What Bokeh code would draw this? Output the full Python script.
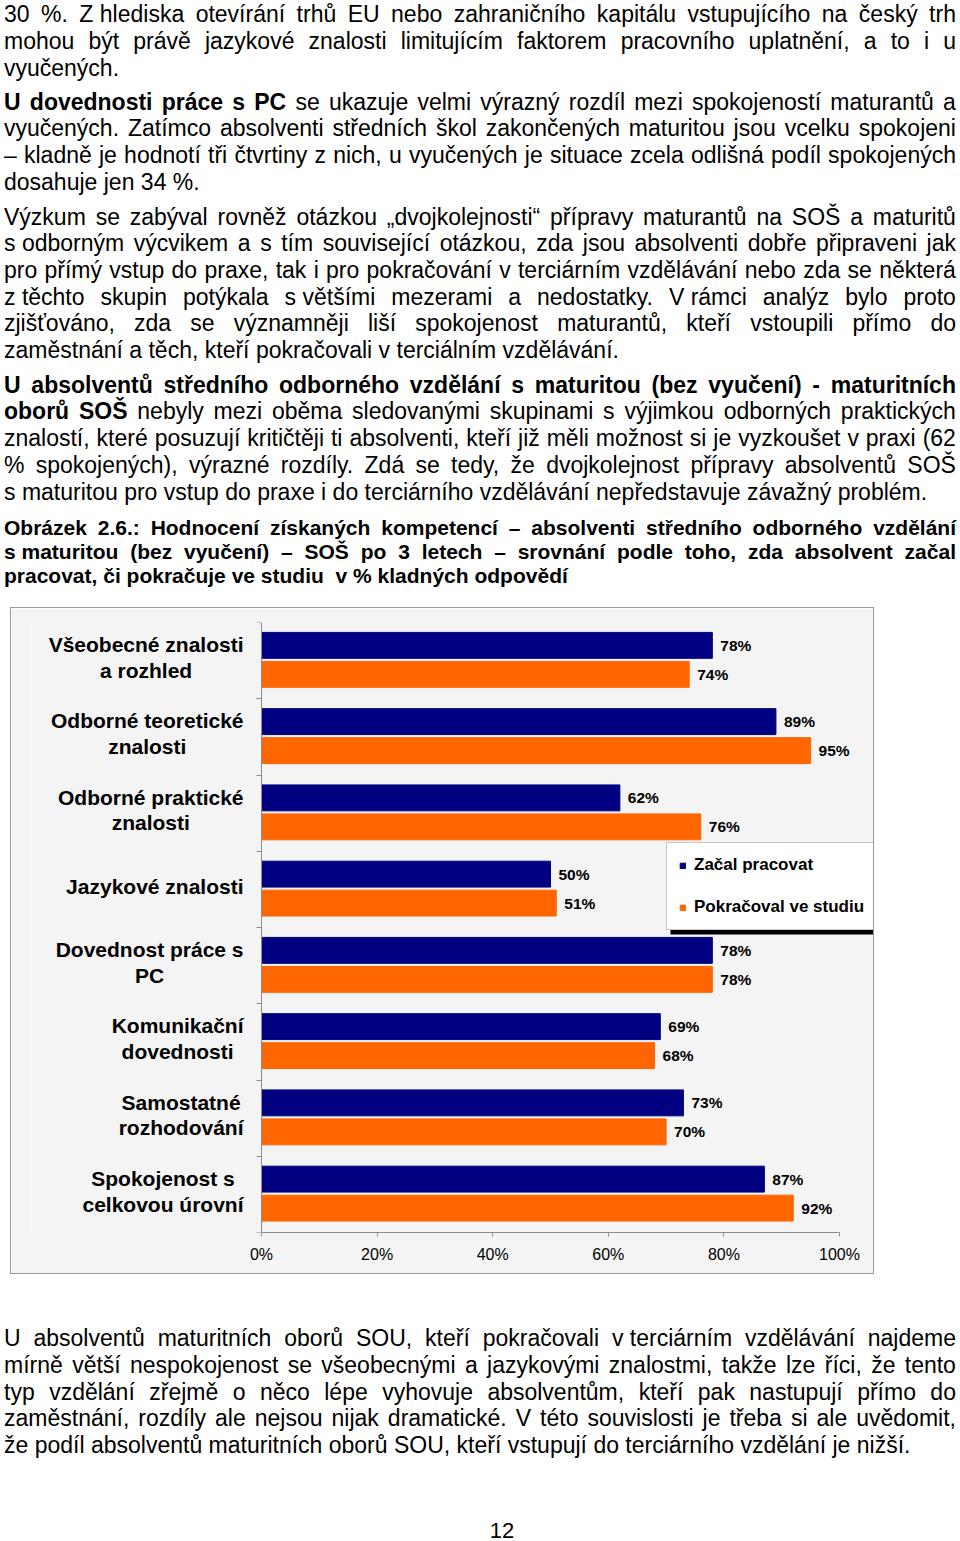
import re, glob
from bokeh.plotting import figure
from bokeh.models import (ColumnDataSource, Range1d, FixedTicker, Legend,
                          LegendItem, BoxAnnotation, Div)
from bokeh.core.properties import value
from bokeh.layouts import column
from bokeh.embed import file_html
from bokeh.resources import INLINE

# ---------------- data ----------------
categories = ["Všeobecné znalosti\na rozhled", "Odborné teoretické\nznalosti",
              "Odborné praktické\nznalosti", "Jazykové znalosti", "Dovednost práce s\nPC",
              "Komunikační\ndovednosti", "Samostatné\nrozhodování", "Spokojenost s\ncelkovou úrovní"]
zacal_pracovat = [78, 89, 62, 50, 78, 69, 73, 87]
pokracoval_ve_studiu = [74, 95, 76, 51, 78, 68, 70, 92]
series_names = ["Začal pracovat", "Pokračoval ve studiu"]
x_ticks = [0, 20, 40, 60, 80, 100]
x_tick_labels = ["0%", "20%", "40%", "60%", "80%", "100%"]

NAVY = "#000080"
ORANGE = "#FF6600"
FONT = "Liberation Sans"

# ---------------- page text ----------------
p1 = ["30 %. Z\u00a0hlediska otevírání trhů EU nebo zahraničního kapitálu vstupujícího na český trh",
      "mohou být právě jazykové znalosti limitujícím faktorem pracovního uplatnění, a to i u",
      "vyučených."]
p2 = ["**U dovednosti práce s PC** se ukazuje velmi výrazný rozdíl mezi spokojeností maturantů a",
      "vyučených. Zatímco absolventi středních škol zakončených maturitou jsou vcelku spokojeni",
      "– kladně je hodnotí tři čtvrtiny z nich, u vyučených je situace zcela odlišná podíl spokojených",
      "dosahuje jen 34 %."]
p3 = ["Výzkum se zabýval rovněž otázkou „dvojkolejnosti“ přípravy maturantů na SOŠ a maturitů",
      "s\u00a0odborným výcvikem a s tím související otázkou, zda jsou absolventi dobře připraveni jak",
      "pro přímý vstup do praxe, tak i pro pokračování v terciárním vzdělávání nebo zda se některá",
      "z\u00a0těchto skupin potýkala s\u00a0většími mezerami a nedostatky. V\u00a0rámci analýz bylo proto",
      "zjišťováno, zda se významněji liší spokojenost maturantů, kteří vstoupili přímo do",
      "zaměstnání a těch, kteří pokračovali v terciálním vzdělávání."]
p4 = ["**U absolventů středního odborného vzdělání s maturitou (bez vyučení) - maturitních**",
      "**oborů SOŠ** nebyly mezi oběma sledovanými skupinami s výjimkou odborných praktických",
      "znalostí, které posuzují kritičtěji ti absolventi, kteří již měli možnost si je vyzkoušet v praxi (62",
      "% spokojených), výrazné rozdíly. Zdá se tedy, že dvojkolejnost přípravy absolventů SOŠ",
      "s\u00a0maturitou pro vstup do praxe i do terciárního vzdělávání nepředstavuje závažný problém."]
caption = ["**Obrázek 2.6.: Hodnocení získaných kompetencí – absolventi středního odborného vzdělání**",
           "**s\u00a0maturitou (bez vyučení) – SOŠ po 3 letech – srovnání podle toho, zda absolvent začal**",
           "**pracovat, či pokračuje ve studiu \u00a0v % kladných odpovědí**"]
p5 = ["U absolventů maturitních oborů SOU, kteří pokračovali v\u00a0terciárním vzdělávání najdeme",
      "mírně větší nespokojenost se všeobecnými a jazykovými znalostmi, takže lze říci, že tento",
      "typ vzdělání zřejmě o něco lépe vyhovuje absolventům, kteří pak nastupují přímo do",
      "zaměstnání, rozdíly ale nejsou nijak dramatické. V této souvislosti je třeba si ale uvědomit,",
      "že podíl absolventů maturitních oborů SOU, kteří vstupují do terciárního vzdělání je nižší."]
page_number = "12"


def words_of(line):
    out, bold = [], False
    for part in re.split(r"(\*\*)", line):
        if part == "**":
            bold = not bold
            continue
        for w in part.split(" "):
            if w:
                out.append((w, bold))
    return out


def span(w, b):
    return f'<span style="font-weight:{"bold" if b else "normal"}">{w}</span>'


def paragraph(lines, top, size, lh):
    html = [f'<div style="position:absolute;left:0;top:{top}px;width:952px;'
            f'font-size:{size}px;line-height:{lh}px">']
    for i, line in enumerate(lines):
        ws = words_of(line)
        if i < len(lines) - 1:
            html.append('<div style="display:flex;justify-content:space-between;white-space:nowrap;'
                        f'height:{lh}px">' + "".join(span(w, b) for w, b in ws) + "</div>")
        else:
            html.append(f'<div style="white-space:nowrap;height:{lh}px">'
                        + " ".join(span(w, b) for w, b in ws) + "</div>")
    html.append("</div>")
    return "".join(html)


base_style = (f'position:relative;width:952px;font-family:\'{FONT}\',Arial,sans-serif;color:#000;')
top_html = (f'<div style="{base_style}height:608px">'
            + paragraph(p1, 1.4, 23, 26.7)
            + paragraph(p2, 88.6, 23, 26.7)
            + paragraph(p3, 203.6, 23, 26.7)
            + paragraph(p4, 371.8, 23, 26.7)
            + paragraph(caption, 515.7, 21, 24)
            + "</div>")
bottom_html = (f'<div style="{base_style}height:264px">'
               + paragraph(p5, 52.4, 23, 26.7)
               + f'<div style="position:absolute;left:478px;top:250px;width:40px;text-align:center;'
                 f'font-size:22px;line-height:16px">{page_number}</div>'
               + "</div>")

div_top = Div(text=top_html, width=952, height=608, margin=0, styles={"overflow": "visible"})
div_bottom = Div(text=bottom_html, width=952, height=264, margin=0, styles={"overflow": "visible"})

# ---------------- chart ----------------
n = len(categories)
centers = [n - 0.5 - i for i in range(n)]
PX = 5.78            # pixels per percentage point
CW, CH = 862, 665    # chart canvas
FL, FT, FB = 20, 14, 41   # frame borders (left, top, bottom)
AXIS_X = 250         # canvas x of the 0% line

p = figure(width=CW, height=CH, output_backend="svg", toolbar_location=None,
           x_range=Range1d(-(AXIS_X - FL) / PX, (CW - AXIS_X) / PX), y_range=Range1d(0, n),
           min_border_left=FL, min_border_right=0, min_border_top=FT, min_border_bottom=FB,
           background_fill_color="#F4F4F4", border_fill_color="#F4F4F4", outline_line_color=None,
           margin=(0, 0, 0, 7), styles={"box-shadow": "0 0 0 1px #9A9A9A"})

src = ColumnDataSource(dict(y1=[c + 0.2 for c in centers], y2=[c - 0.18 for c in centers],
                            a=zacal_pracovat, b=pokracoval_ve_studiu,
                            la=[f"{v}%" for v in zacal_pracovat],
                            lb=[f"{v}%" for v in pokracoval_ve_studiu]))
r1 = p.hbar(y="y1", left=0, right="a", height=0.34, source=src, fill_color=NAVY, line_color=NAVY)
r2 = p.hbar(y="y2", left=0, right="b", height=0.34, source=src, fill_color=ORANGE, line_color=ORANGE)

for xcol, ycol, tcol in (("a", "y1", "la"), ("b", "y2", "lb")):
    p.text(x=xcol, y=ycol, text=tcol, source=src, x_offset=8,
           text_font=value(FONT), text_font_size="15.5px", text_font_style="bold",
           text_align="left", text_baseline="middle", text_color="black")


def text_width(s, size):
    try:
        from PIL import ImageFont
        paths = glob.glob("/usr/share/fonts/**/LiberationSans-Bold.ttf", recursive=True)
        f = ImageFont.truetype(paths[0], size)
        return max(f.getlength(l) for l in s.split("\n"))
    except Exception:
        return max(len(l) for l in s.split("\n")) * 0.58 * size


LBL = 21
cat_src = ColumnDataSource(dict(x=[0] * n, y=centers, text=categories,
                                xo=[-(18 + text_width(c, LBL) / 2) for c in categories]))
p.text(x="x", y="y", text="text", source=cat_src, x_offset="xo", y_offset=-3,
       text_font=value(FONT), text_font_size=f"{LBL}px", text_font_style="bold",
       text_align="center", text_baseline="middle", text_line_height=1.12, text_color="black")

p.xgrid.visible = False
p.ygrid.visible = False

xa = p.xaxis[0]
xa.ticker = FixedTicker(ticks=x_ticks)
xa.major_label_overrides = {t: l for t, l in zip(x_ticks, x_tick_labels)}
xa.bounds = (0, 100)
xa.axis_line_color = "#8C8C8C"
xa.major_tick_line_color = "#8C8C8C"
xa.major_tick_out = 4
xa.major_tick_in = 0
xa.minor_tick_line_color = None
xa.major_label_text_font = FONT
xa.major_label_text_font_size = "16px"
xa.major_label_text_color = "black"
xa.major_label_standoff = 9

ya = p.yaxis[0]
ya.ticker = FixedTicker(ticks=list(range(n + 1)))
ya.major_label_overrides = {i: "" for i in range(n + 1)}
ya.bounds = (0, n)
ya.fixed_location = 0
ya.axis_line_color = "#8C8C8C"
ya.major_tick_line_color = "#8C8C8C"
ya.major_tick_out = 5
ya.major_tick_in = 0
ya.minor_tick_line_color = None
ya.major_label_standoff = 0

shadow = BoxAnnotation(left=659, right=866, top=239, bottom=326, left_units="canvas",
                       right_units="canvas", top_units="canvas", bottom_units="canvas",
                       fill_color="black", fill_alpha=1, line_color=None, level="annotation")
p.add_layout(shadow)

legend = Legend(items=[LegendItem(label=series_names[0], renderers=[r1]),
                       LegendItem(label=series_names[1], renderers=[r2])],
                location=(655 - FL, 302), orientation="vertical",
                label_text_font=FONT, label_text_font_size="17px", label_text_font_style="bold",
                label_text_color="black", glyph_width=7, glyph_height=7, label_standoff=8,
                label_height=20, spacing=22, padding=12, margin=0,
                border_line_color="#8C8C8C", border_line_width=1,
                background_fill_color="white", background_fill_alpha=1)
p.add_layout(legend, "center")

layout = column(div_top, p, div_bottom, margin=(0, 0, 0, 4), spacing=0)

open("out.html", "w").write(file_html(layout, INLINE))
